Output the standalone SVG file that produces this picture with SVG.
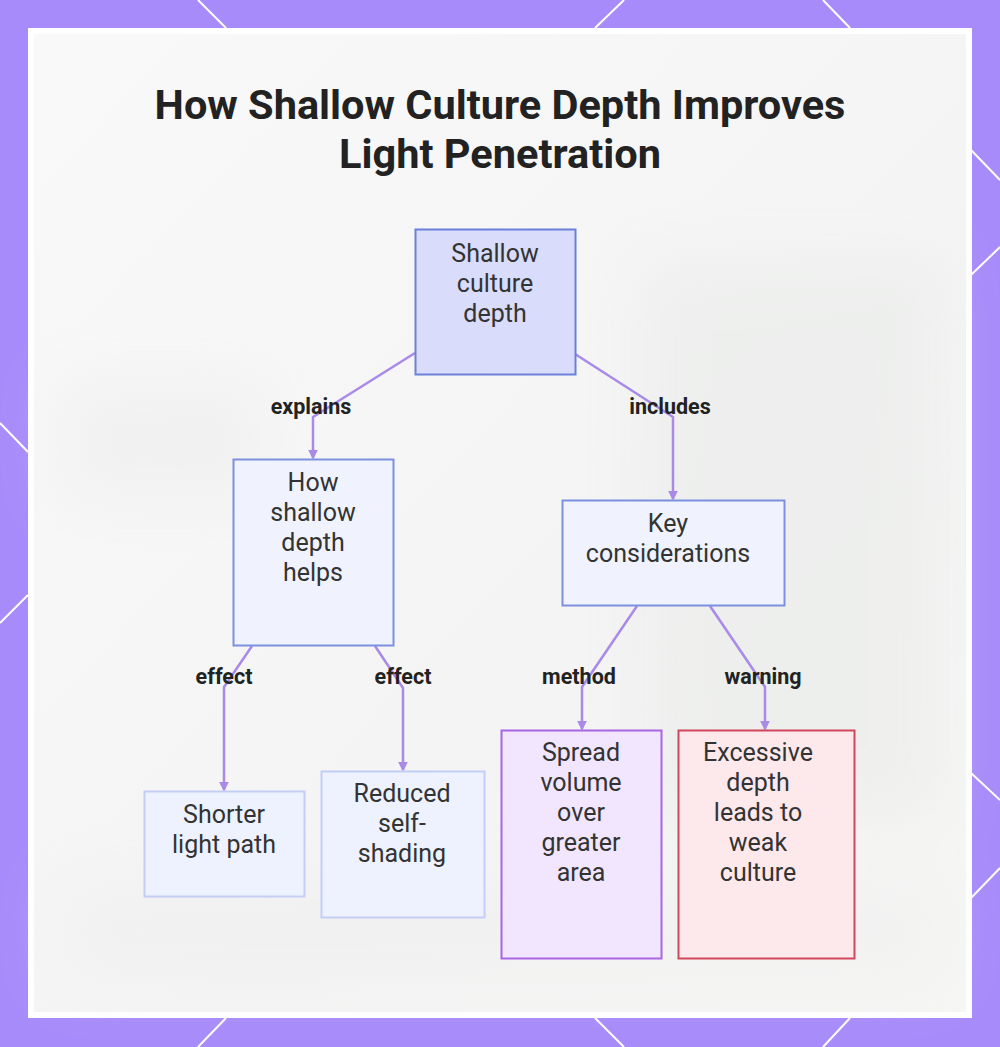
<svg xmlns="http://www.w3.org/2000/svg" width="1000" height="1047" viewBox="0 0 1000 1047">
<defs>
<style>
.title{font-family:Roboto,"Liberation Sans",sans-serif;font-weight:700;font-size:41.5px;fill:#222;text-anchor:middle}
.nt{font-family:Roboto,"Liberation Sans",sans-serif;font-size:25px;fill:#333;text-anchor:middle}
.lbl{font-family:Roboto,"Liberation Sans",sans-serif;font-weight:700;font-size:21.5px;fill:#222;text-anchor:middle}
.edge{fill:none;stroke:#a98ae8;stroke-width:2.5;stroke-linejoin:round}
.deco{stroke:#fff;stroke-width:2}
</style>
<marker id="ah" viewBox="0 0 6 6" refX="5" refY="3" markerWidth="4" markerHeight="4" orient="auto">
<path d="M0,0 L6,3 L0,6 z" fill="#a98ae8"/>
</marker>
<filter id="blur" x="-50%" y="-50%" width="200%" height="200%"><feGaussianBlur stdDeviation="30"/></filter>
<linearGradient id="bg" x1="0" y1="0" x2="1" y2="1">
<stop offset="0" stop-color="#f9f9f9"/>
<stop offset="0.6" stop-color="#f3f4f3"/>
<stop offset="1" stop-color="#f6f6f5"/>
</linearGradient>
</defs>
<rect x="0" y="0" width="1000" height="1047" fill="#a78bfa"/>
<g class="deco">
<line x1="198" y1="0" x2="226" y2="28"/>
<line x1="624" y1="0" x2="595" y2="28"/>
<line x1="823" y1="0" x2="850" y2="28"/>
<line x1="226" y1="1018" x2="198" y2="1047"/>
<line x1="595" y1="1018" x2="624" y2="1047"/>
<line x1="850" y1="1018" x2="823" y2="1047"/>
<line x1="0" y1="423" x2="28" y2="452"/>
<line x1="28" y1="595" x2="0" y2="623"/>
<line x1="971" y1="150" x2="1000" y2="180"/>
<line x1="971" y1="275" x2="1000" y2="247"/>
<line x1="971" y1="773" x2="1000" y2="800"/>
<line x1="971" y1="898" x2="1000" y2="868"/>
</g>
<rect x="28" y="28" width="944" height="990" fill="#ffffff"/>
<rect x="34" y="34" width="932" height="978" fill="url(#bg)"/>
<g filter="url(#blur)" opacity="0.45">
<rect x="640" y="260" width="300" height="560" fill="#e6e8e6"/>
<rect x="60" y="380" width="200" height="120" fill="#e9eae9"/>
<rect x="60" y="880" width="880" height="100" fill="#ecedec"/>
</g>
<g id="title">
<text class="title" x="500" y="119">How Shallow Culture Depth Improves</text>
<text class="title" x="500" y="168">Light Penetration</text>
</g>
<g id="connectors">
<polyline class="edge" points="415,353 313,417 313,458" marker-end="url(#ah)"/>
<polyline class="edge" points="575,354 673,417 673,499" marker-end="url(#ah)"/>
<polyline class="edge" points="252,646 224,687 224,790" marker-end="url(#ah)"/>
<polyline class="edge" points="375,646 403,688 403,770" marker-end="url(#ah)"/>
<polyline class="edge" points="637,606 582,687 582,729" marker-end="url(#ah)"/>
<polyline class="edge" points="710,606 765,687 765,729" marker-end="url(#ah)"/>
<text class="lbl" x="311" y="414">explains</text>
<text class="lbl" x="670" y="414">includes</text>
<text class="lbl" x="224" y="684">effect</text>
<text class="lbl" x="403" y="684">effect</text>
<text class="lbl" x="579" y="684">method</text>
<text class="lbl" x="763" y="684">warning</text>
</g>
<g id="n1">
<rect x="415.5" y="229.5" width="160" height="145" fill="#dadcfb" stroke="#6c80d8" stroke-width="2"/>
<text class="nt" x="495" y="262">Shallow</text>
<text class="nt" x="495" y="292">culture</text>
<text class="nt" x="495" y="322">depth</text>
</g>
<g id="n2">
<rect x="233.5" y="459.5" width="160" height="186" fill="#f0f3fe" stroke="#7d90e0" stroke-width="2"/>
<text class="nt" x="313" y="491">How</text>
<text class="nt" x="313" y="521">shallow</text>
<text class="nt" x="313" y="551">depth</text>
<text class="nt" x="313" y="581">helps</text>
</g>
<g id="n3">
<rect x="562.5" y="500.5" width="222" height="105" fill="#f0f3fe" stroke="#7d90e0" stroke-width="2"/>
<text class="nt" x="668" y="532">Key</text>
<text class="nt" x="668" y="562">considerations</text>
</g>
<g id="n4">
<rect x="144.5" y="791.5" width="160" height="105" fill="#eef2fe" stroke="#c3cef6" stroke-width="2"/>
<text class="nt" x="224" y="823">Shorter</text>
<text class="nt" x="224" y="853">light path</text>
</g>
<g id="n5">
<rect x="321.5" y="771.5" width="163" height="146" fill="#eef2fe" stroke="#c3cef6" stroke-width="2"/>
<text class="nt" x="402" y="802">Reduced</text>
<text class="nt" x="402" y="832">self-</text>
<text class="nt" x="402" y="862">shading</text>
</g>
<g id="n6">
<rect x="501.5" y="730.5" width="160" height="228" fill="#f1e6fd" stroke="#a865e6" stroke-width="2"/>
<text class="nt" x="581" y="761">Spread</text>
<text class="nt" x="581" y="791">volume</text>
<text class="nt" x="581" y="821">over</text>
<text class="nt" x="581" y="851">greater</text>
<text class="nt" x="581" y="881">area</text>
</g>
<g id="n7">
<rect x="678.5" y="730.5" width="176" height="228" fill="#fde9ec" stroke="#d0465b" stroke-width="2"/>
<text class="nt" x="758" y="761">Excessive</text>
<text class="nt" x="758" y="791">depth</text>
<text class="nt" x="758" y="821">leads to</text>
<text class="nt" x="758" y="851">weak</text>
<text class="nt" x="758" y="881">culture</text>
</g>
</svg>
